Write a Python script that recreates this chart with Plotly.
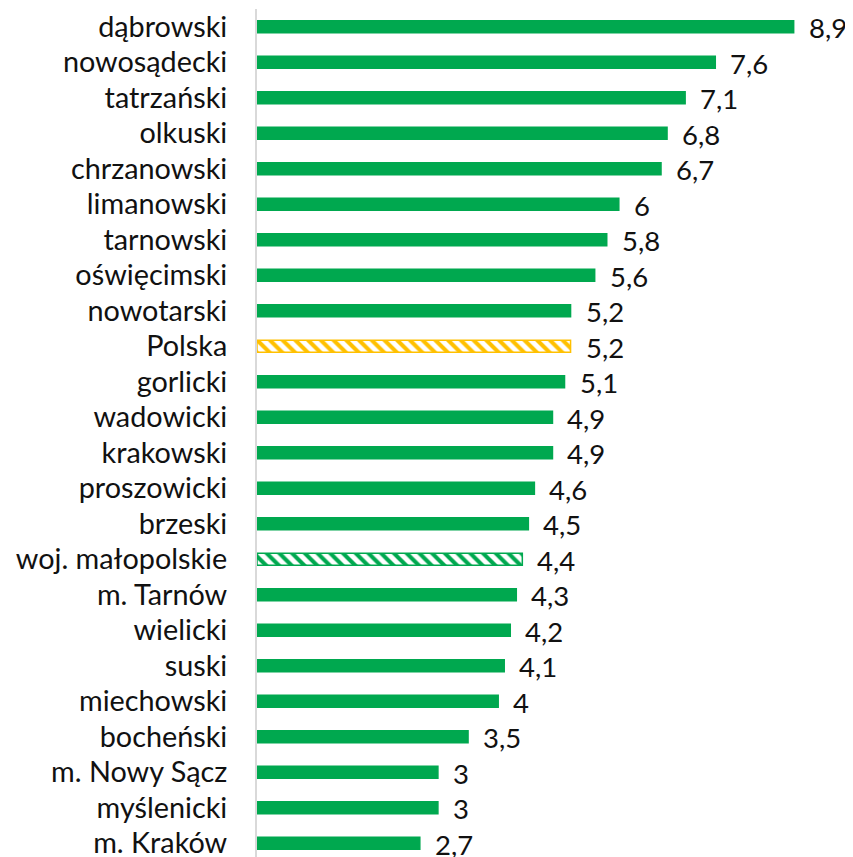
import plotly.graph_objects as go

categories = ["dąbrowski", "nowosądecki", "tatrzański", "olkuski", "chrzanowski",
              "limanowski", "tarnowski", "oświęcimski", "nowotarski", "Polska",
              "gorlicki", "wadowicki", "krakowski", "proszowicki", "brzeski",
              "woj. małopolskie", "m. Tarnów", "wielicki", "suski", "miechowski",
              "bocheński", "m. Nowy Sącz", "myślenicki", "m. Kraków"]
values = [8.9, 7.6, 7.1, 6.8, 6.7, 6, 5.8, 5.6, 5.2, 5.2, 5.1, 4.9, 4.9, 4.6,
          4.5, 4.4, 4.3, 4.2, 4.1, 4, 3.5, 3, 3, 2.7]

GREEN = "#00A84F"
YELLOW = "#FFC000"

colors = []
shapes = []
for c in categories:
    if c == "Polska":
        colors.append(YELLOW); shapes.append("\\")
    elif c == "woj. małopolskie":
        colors.append(GREEN); shapes.append("\\")
    else:
        colors.append(GREEN); shapes.append("")

def fmt(v):
    s = ("%g" % v)
    return s.replace(".", ",")

FS = 28.8
FS_LBL = 27.5

fig = go.Figure()
fig.add_trace(go.Bar(
    x=values, y=categories, orientation="h",
    marker=dict(color=colors, line=dict(color=colors, width=1.5),
                pattern=dict(shape=shapes, bgcolor="white", size=9, solidity=0.45,
                             fillmode="replace")),
    hoverinfo="skip",
))

for c, v in zip(categories, values):
    fig.add_annotation(x=v, y=c, text=fmt(v), showarrow=False, xanchor="left",
                       yanchor="middle", xshift=13, yshift=-1,
                       font=dict(family="Lato", size=FS_LBL, color="#111111"))

# page body has an 8px margin, so figure coordinates are offset by 8px
H = 857
top = 1
left = 249
plot_h = H - top
band = 35.5
fig.update_layout(
    width=853, height=H,
    margin=dict(l=left, r=0, t=top, b=0),
    plot_bgcolor="white", paper_bgcolor="white",
    bargap=0.66, showlegend=False,
    font=dict(family="Lato", size=FS, color="#111111"),
)
fig.update_xaxes(range=[0, (853 - left) / 60.3], visible=False, showgrid=False)
fig.update_yaxes(range=[-0.5 + plot_h / band, -0.5], showgrid=False,
                 showline=True, linecolor="#D9D9D9", linewidth=2,
                 ticks="", ticklabelstandoff=22, automargin=False,
                 tickfont=dict(family="Lato", size=FS, color="#111111"))

fig.write_html("out.html")
